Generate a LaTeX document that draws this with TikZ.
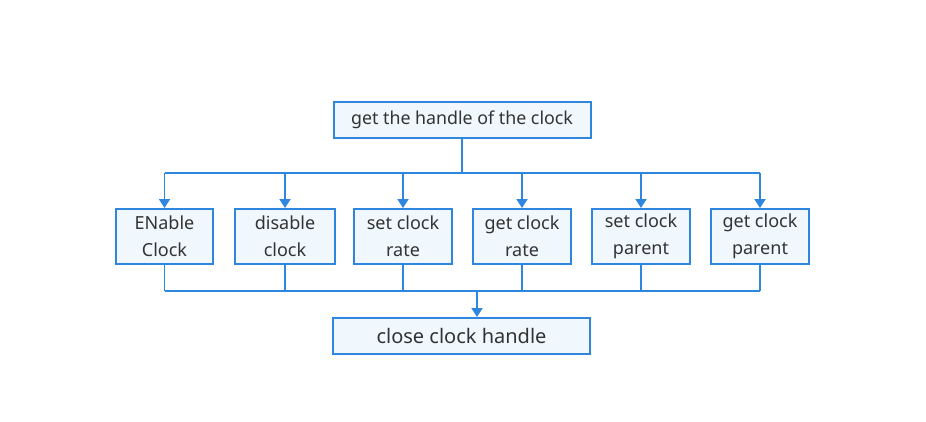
\documentclass[tikz,border=0pt]{standalone}
\usepackage{fontspec}
\setmainfont{Noto Sans}
\usetikzlibrary{positioning}
\usetikzlibrary{arrows.meta}
\definecolor{clkblue}{HTML}{2E86DE}
\definecolor{clkfill}{HTML}{F0F8FE}
\definecolor{clktext}{HTML}{333333}
\begin{document}
\begin{tikzpicture}[x=1pt,y=-1pt,every node/.style = {align=center,text=clktext},
  box/.style = {draw=clkblue,fill=clkfill,line width=2pt,inner sep=0pt,
    minimum width=98pt,minimum height=55pt,font=\fontsize{18}{27}\selectfont},
  widebox/.style = {box,minimum width=257pt,minimum height=36pt,font=\fontsize{17.8}{20}\selectfont},
  link/.style = {draw=clkblue,line width=1.8pt},
  arrow/.style = {link,-{Triangle[width=11pt,length=9pt]}}]
\useasboundingbox (0,0) rectangle (926,421);
\node[widebox] (handle) at (462,119.5) {get the handle of the clock};
\node[box,minimum width=97pt] (enable) at (164.5,236.5) {ENable\\Clock};
\node[box,minimum width=100pt] (disable) at (285,236.5) {disable\\clock};
\node[box] (setrate) at (403,236.5) {set clock\\rate};
\node[box] (getrate) at (522,236.5) {get clock\\rate};
\node[box] (setparent) at (641,236.5) {set clock\\parent};
\node[box] (getparent) at (760,236.5) {get clock\\parent};
\node[widebox,font=\fontsize{20}{22}\selectfont] (close) at (461.5,336) {close clock handle};
% top bus
\coordinate (split) at (462,173);
\draw[link] (handle.south) -- (split);
\draw[link] (enable.north |- split) -- (getparent.north |- split);
\foreach \n in {enable,disable,setrate,getrate,setparent,getparent}
  \draw[arrow] (\n.north |- split) -- (\n.north);
% bottom bus
\coordinate (join) at (477,291);
\draw[link] (enable.south |- join) -- (getparent.south |- join);
\foreach \n in {enable,disable,setrate,getrate,setparent,getparent}
  \draw[link] (\n.south) -- (\n.south |- join);
\draw[arrow] (join) -- (close.north -| join);
\end{tikzpicture}
\end{document}
